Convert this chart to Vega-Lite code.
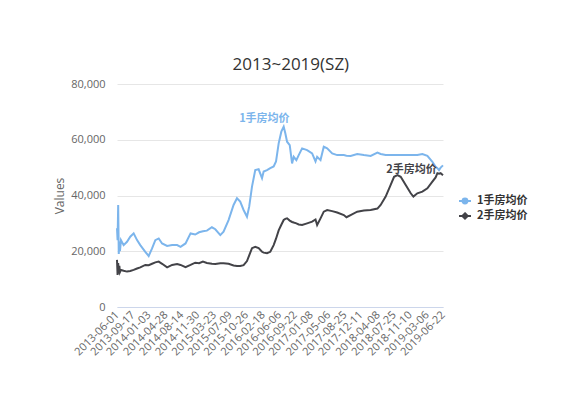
{
  "$schema": "https://vega.github.io/schema/vega-lite/v6.json",
  "width": 326,
  "height": 223,
  "autosize": {"type": "none"},
  "padding": {"left": 117, "top": 84, "right": 126, "bottom": 89},
  "background": "white",
  "title": {"text": "2013~2019(SZ)", "fontSize": 17, "font": "Open Sans", "fontWeight": "normal", "color": "#333333", "anchor": "middle", "frame": "bounds", "offset": 4},
  "config": {"view": {"stroke": null}, "font": "Open Sans"},
  "datasets": {
    "prices": [
      {"d": "2013-06-01", "1手房均价": 28300, "2手房均价": 16900},
      {"d": "2013-06-05", "1手房均价": 24000, "2手房均价": 11500},
      {"d": "2013-06-09", "1手房均价": 36600, "2手房均价": 15800},
      {"d": "2013-06-13", "1手房均价": 19000, "2手房均价": 12000},
      {"d": "2013-06-17", "1手房均价": 23500, "2手房均价": 14800},
      {"d": "2013-06-21", "1手房均价": 20000, "2手房均价": 12500},
      {"d": "2013-06-28", "1手房均价": 24000, "2手房均价": 13300},
      {"d": "2013-07-16", "1手房均价": 22200, "2手房均价": 13000},
      {"d": "2013-08-08", "1手房均价": 23400, "2手房均价": 12700},
      {"d": "2013-08-30", "1手房均价": 25200, "2手房均价": 12900},
      {"d": "2013-09-22", "1手房均价": 26400, "2手房均价": 13300},
      {"d": "2013-10-15", "1手房均价": 24000, "2手房均价": 13800},
      {"d": "2013-11-06", "1手房均价": 22200, "2手房均价": 14200},
      {"d": "2013-12-10", "1手房均价": 19800, "2手房均价": 15100},
      {"d": "2014-01-02", "1手房均价": 18300, "2手房均价": 15000},
      {"d": "2014-01-25", "1手房均价": 21000, "2手房均价": 15500},
      {"d": "2014-02-16", "1手房均价": 24000, "2手房均价": 16000},
      {"d": "2014-03-11", "1手房均价": 24600, "2手房均价": 16300},
      {"d": "2014-04-03", "1手房均价": 22800, "2手房均价": 15500},
      {"d": "2014-05-07", "1手房均价": 21900, "2手房均价": 14200},
      {"d": "2014-06-10", "1手房均价": 22200, "2手房均价": 15100},
      {"d": "2014-07-14", "1手房均价": 22200, "2手房均价": 15400},
      {"d": "2014-08-06", "1手房均价": 21600, "2手房均价": 15100},
      {"d": "2014-09-09", "1手房均价": 22800, "2手房均价": 14300},
      {"d": "2014-10-13", "1手房均价": 26400, "2手房均价": 15100},
      {"d": "2014-11-14", "1手房均价": 26000, "2手房均价": 15900},
      {"d": "2014-12-10", "1手房均价": 26800, "2手房均价": 15700},
      {"d": "2015-01-05", "1手房均价": 27200, "2手房均价": 16300},
      {"d": "2015-02-01", "1手房均价": 27400, "2手房均价": 15800},
      {"d": "2015-03-07", "1手房均价": 28600, "2手房均价": 15500},
      {"d": "2015-03-30", "1手房均价": 27900, "2手房均价": 15400},
      {"d": "2015-05-03", "1手房均价": 25800, "2手房均价": 15700},
      {"d": "2015-05-25", "1手房均价": 27000, "2手房均价": 15700},
      {"d": "2015-06-28", "1手房均价": 31200, "2手房均价": 15500},
      {"d": "2015-08-01", "1手房均价": 36600, "2手房均价": 14900},
      {"d": "2015-08-24", "1手房均价": 39000, "2手房均价": 14700},
      {"d": "2015-09-15", "1手房均价": 37800, "2手房均价": 14700},
      {"d": "2015-10-08", "1手房均价": 34800, "2手房均价": 15000},
      {"d": "2015-10-31", "1手房均价": 32400, "2手房均价": 16500},
      {"d": "2015-11-15", "1手房均价": 36000, "2手房均价": 18500},
      {"d": "2015-12-04", "1手房均价": 43200, "2手房均价": 21100},
      {"d": "2015-12-26", "1手房均价": 49100, "2手房均价": 21600},
      {"d": "2016-01-18", "1手房均价": 49400, "2手房均价": 21100},
      {"d": "2016-02-10", "1手房均价": 46200, "2手房均价": 19800},
      {"d": "2016-02-21", "1手房均价": 48600, "2手房均价": 19500},
      {"d": "2016-03-15", "1手房均价": 49100, "2手房均价": 19300},
      {"d": "2016-04-06", "1手房均价": 49800, "2手房均价": 19800},
      {"d": "2016-04-29", "1手房均价": 50400, "2手房均价": 22200},
      {"d": "2016-05-15", "1手房均价": 52200, "2手房均价": 24500},
      {"d": "2016-06-02", "1手房均价": 58700, "2手房均价": 27500},
      {"d": "2016-06-20", "1手房均价": 62900, "2手房均价": 29500},
      {"d": "2016-07-06", "1手房均价": 64700, "2手房均价": 31200},
      {"d": "2016-07-17", "1手房均价": 62300, "2手房均价": 31600},
      {"d": "2016-07-29", "1手房均价": 59300, "2手房均价": 31800},
      {"d": "2016-08-16", "1手房均价": 58100, "2手房均价": 31000},
      {"d": "2016-09-01", "1手房均价": 51500, "2手房均价": 30500},
      {"d": "2016-09-12", "1手房均价": 53900, "2手房均价": 30300},
      {"d": "2016-09-30", "1手房均价": 52700, "2手房均价": 30000},
      {"d": "2016-10-16", "1手房均价": 54500, "2手房均价": 29600},
      {"d": "2016-11-08", "1手房均价": 56900, "2手房均价": 29400},
      {"d": "2016-12-12", "1手房均价": 56300, "2手房均价": 30000},
      {"d": "2017-01-15", "1手房均价": 55100, "2手房均价": 30600},
      {"d": "2017-02-07", "1手房均价": 52200, "2手房均价": 31400},
      {"d": "2017-02-18", "1手房均价": 53900, "2手房均价": 29400},
      {"d": "2017-03-13", "1手房均价": 52700, "2手房均价": 31800},
      {"d": "2017-04-04", "1手房均价": 57500, "2手房均价": 34200},
      {"d": "2017-04-27", "1手房均价": 56900, "2手房均价": 34800},
      {"d": "2017-05-31", "1手房均价": 55100, "2手房均价": 34400},
      {"d": "2017-07-04", "1手房均价": 54500, "2手房均价": 33900},
      {"d": "2017-08-18", "1手房均价": 54500, "2手房均价": 33000},
      {"d": "2017-09-05", "1手房均价": 54300, "2手房均价": 32200},
      {"d": "2017-10-03", "1手房均价": 54200, "2手房均价": 33000},
      {"d": "2017-11-17", "1手房均价": 54900, "2手房均价": 34200},
      {"d": "2018-01-01", "1手房均价": 54500, "2手房均价": 34600},
      {"d": "2018-02-16", "1手房均价": 54200, "2手房均价": 34800},
      {"d": "2018-04-03", "1手房均价": 55400, "2手房均价": 35300},
      {"d": "2018-04-25", "1手房均价": 54900, "2手房均价": 36600},
      {"d": "2018-05-29", "1手房均价": 54500, "2手房均价": 39600},
      {"d": "2018-07-02", "1手房均价": 54500, "2手房均价": 43800},
      {"d": "2018-07-25", "1手房均价": 54500, "2手房均价": 46700},
      {"d": "2018-08-17", "1手房均价": 54500, "2手房均价": 47300},
      {"d": "2018-09-08", "1手房均价": 54500, "2手房均价": 46700},
      {"d": "2018-10-12", "1手房均价": 54500, "2手房均价": 43800},
      {"d": "2018-11-15", "1手房均价": 54500, "2手房均价": 40800},
      {"d": "2018-12-03", "1手房均价": 54500, "2手房均价": 39600},
      {"d": "2018-12-30", "1手房均价": 54500, "2手房均价": 40800},
      {"d": "2019-02-02", "1手房均价": 54900, "2手房均价": 41400},
      {"d": "2019-03-08", "1手房均价": 54200, "2手房均价": 42600},
      {"d": "2019-04-11", "1手房均价": 52100, "2手房均价": 45000},
      {"d": "2019-05-03", "1手房均价": 50300, "2手房均价": 46500},
      {"d": "2019-05-15", "1手房均价": 49800, "2手房均价": 48000},
      {"d": "2019-05-26", "1手房均价": 49100, "2手房均价": 47800},
      {"d": "2019-06-06", "1手房均价": 50000, "2手房均价": 48000},
      {"d": "2019-06-22", "1手房均价": 50800, "2手房均价": 47300}
    ],
    "labels": [
      {"d": "2016-02-26", "v": 67400, "t": "1手房均价", "s": "1手房均价"},
      {"d": "2018-11-20", "v": 49100, "t": "2手房均价", "s": "2手房均价"}
    ]
  },
  "encoding": {
    "x": {
      "field": "d", "type": "temporal",
      "scale": {"type": "utc", "domain": [{"year": 2013, "month": 6, "date": 1, "utc": true}, {"year": 2019, "month": 6, "date": 22, "utc": true}]},
      "axis": {
        "title": null, "grid": false, "ticks": false, "domain": true, "domainColor": "#ccd6eb",
        "labelAngle": -45, "labelAlign": "right", "labelBaseline": "middle", "labelPadding": 6,
        "labelColor": "#666666", "labelFontSize": 11, "labelFont": "Open Sans",
        "labelOverlap": false, "labelFlush": false, "labelBound": false,
        "labelExpr": "utcFormat(datum.value, '%Y-%m-%d')",
        "values": [
          {"year": 2013, "month": 6, "date": 1, "utc": true},
          {"year": 2013, "month": 9, "date": 17, "utc": true},
          {"year": 2014, "month": 1, "date": 3, "utc": true},
          {"year": 2014, "month": 4, "date": 28, "utc": true},
          {"year": 2014, "month": 8, "date": 14, "utc": true},
          {"year": 2014, "month": 11, "date": 30, "utc": true},
          {"year": 2015, "month": 3, "date": 23, "utc": true},
          {"year": 2015, "month": 7, "date": 9, "utc": true},
          {"year": 2015, "month": 10, "date": 26, "utc": true},
          {"year": 2016, "month": 2, "date": 18, "utc": true},
          {"year": 2016, "month": 6, "date": 6, "utc": true},
          {"year": 2016, "month": 9, "date": 22, "utc": true},
          {"year": 2017, "month": 1, "date": 8, "utc": true},
          {"year": 2017, "month": 5, "date": 6, "utc": true},
          {"year": 2017, "month": 8, "date": 25, "utc": true},
          {"year": 2017, "month": 12, "date": 11, "utc": true},
          {"year": 2018, "month": 4, "date": 8, "utc": true},
          {"year": 2018, "month": 7, "date": 25, "utc": true},
          {"year": 2018, "month": 11, "date": 10, "utc": true},
          {"year": 2019, "month": 3, "date": 6, "utc": true},
          {"year": 2019, "month": 6, "date": 22, "utc": true}
        ]
      }
    },
    "y": {
      "field": "v", "type": "quantitative",
      "scale": {"domain": [0, 80000]},
      "axis": {
        "title": "Values", "values": [0, 20000, 40000, 60000, 80000], "format": ",.0f",
        "grid": true, "gridColor": "#e6e6e6", "domain": false, "ticks": false, "tickSize": 0,
        "labelColor": "#666666", "labelFontSize": 11, "labelFont": "Open Sans", "labelPadding": 12,
        "titleColor": "#666666", "titleFontSize": 12, "titleFontWeight": "normal", "titleFont": "Open Sans", "titlePadding": 4
      }
    }
  },
  "layer": [
    {
      "data": {"name": "prices"},
      "transform": [{"fold": ["1手房均价", "2手房均价"], "as": ["s", "v"]}],
      "mark": {"type": "line", "strokeWidth": 2, "interpolate": "linear"},
      "encoding": {
        "color": {
          "field": "s", "type": "nominal",
          "scale": {"domain": ["1手房均价", "2手房均价"], "range": ["#7cb5ec", "#434348"]},
          "legend": {
            "orient": "none", "legendX": 341, "legendY": 110, "title": null, "padding": 0,
            "labelFont": "Noto Sans CJK SC", "labelFontSize": 11, "labelFontWeight": "bold", "labelColor": "#333333",
            "labelOffset": 5, "rowPadding": 1, "symbolSize": 144, "symbolStrokeWidth": 2,
            "encode": {
              "symbols": {
                "update": {
                  "shape": {"signal": "datum.value === '1手房均价' ? 'M-1,0H1M0.4,0A0.4,0.4,0,1,1,-0.4,0A0.4,0.4,0,1,1,0.4,0Z' : 'M-1,0H1M0,-0.45L0.45,0L0,0.45L-0.45,0Z'"},
                  "fill": {"scale": "color", "field": "value"},
                  "stroke": {"scale": "color", "field": "value"},
                  "strokeWidth": {"value": 2}
                }
              }
            }
          }
        }
      }
    },
    {
      "data": {"name": "labels"},
      "mark": {"type": "text", "fontWeight": "bold", "fontSize": 11, "font": "Noto Sans CJK SC"},
      "encoding": {
        "text": {"field": "t"},
        "color": {"condition": {"test": "datum.s === '1手房均价'", "value": "#7cb5ec"}, "value": "#434348"}
      }
    }
  ]
}
